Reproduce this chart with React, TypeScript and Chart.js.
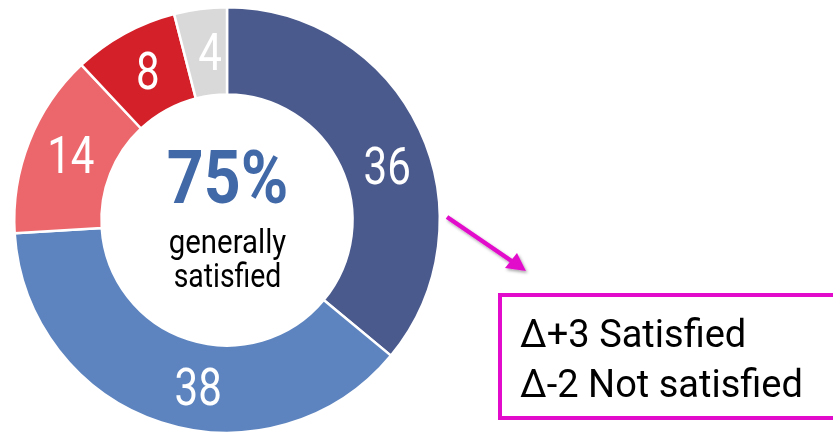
import React, { useEffect, useRef } from "react";
import { Chart, registerables } from "chart.js";

Chart.register(...registerables);

const categories = ["Very satisfied", "Fairly satisfied", "Not very satisfied", "Not at all satisfied", "Don't know"];
const values = [36, 38, 14, 8, 4];
const sliceColors = ["#4B5A8D", "#5D84BF", "#EC676B", "#D42029", "#D9D9D9"];
const centerValue = "75%";
const centerLines = ["generally", "satisfied"];
const deltaLines = ["Δ+3 Satisfied", "Δ-2 Not satisfied"];

// style: where along each slice's arc its label sits (0 = start, 1 = end)
const labelAngleFrac = [0.55, 0.44, 0.52, 0.53, 0.6];

const FONT = 'Roboto, "Liberation Sans", sans-serif';
const MAGENTA = "#E20BCB";

const labelPlugin = {
  id: "sliceLabels",
  afterDatasetsDraw(chart: any) {
    const ctx = chart.ctx;
    const meta = chart.getDatasetMeta(0);
    ctx.save();
    ctx.fillStyle = "#FFFFFF";
    ctx.font = `52px ${FONT}`;
    ctx.textAlign = "center";
    ctx.textBaseline = "alphabetic";
    meta.data.forEach((arc: any, i: number) => {
      const { x, y, startAngle, endAngle, innerRadius, outerRadius } = arc.getProps(
        ["x", "y", "startAngle", "endAngle", "innerRadius", "outerRadius"],
        true
      );
      const f = labelAngleFrac[i] ?? 0.5;
      const a = startAngle + (endAngle - startAngle) * f;
      const r = (innerRadius + outerRadius) / 2;
      const px = x + Math.cos(a) * r;
      const py = y + Math.sin(a) * r;
      ctx.save();
      ctx.translate(px, py);
      ctx.scale(0.81, 1);
      ctx.fillText(String(chart.data.datasets[0].data[i]), 0, 18.5);
      ctx.restore();
    });
    ctx.restore();
  },
};

export default function App() {
  const ref = useRef<HTMLCanvasElement>(null);
  useEffect(() => {
    const chart = new Chart(ref.current!, {
      type: "doughnut",
      data: {
        labels: categories,
        datasets: [
          {
            data: values,
            backgroundColor: sliceColors,
            borderColor: "#FFFFFF",
            borderWidth: 2.5,
          },
        ],
      },
      options: {
        animation: false,
        responsive: false,
        cutout: "59%",
        rotation: 0,
        layout: { padding: { left: 13, right: 392, top: 6, bottom: -2 } },
        plugins: { legend: { display: false }, tooltip: { enabled: false } },
      },
      plugins: [labelPlugin],
    });
    return () => chart.destroy();
  }, []);

  const abs = (top: number, size: number, extra: any = {}) => ({
    position: "absolute" as const,
    top,
    fontSize: size,
    lineHeight: `${size}px`,
    fontFamily: FONT,
    whiteSpace: "nowrap" as const,
    ...extra,
  });

  return (
    <div style={{ position: "fixed", left: 0, top: 0, width: 833, height: 434, overflow: "hidden", background: "#fff" }}>
      <canvas ref={ref} width={833} height={434} style={{ position: "absolute", left: 0, top: 0 }} />
      <div style={abs(141, 74, { left: 0, width: 455, textAlign: "center", fontWeight: "bold", color: "#4169A8", transform: "scaleX(0.87)" })}>{centerValue}</div>
      <div style={abs(225, 33, { left: 0, width: 455, textAlign: "center", color: "#000", transform: "scaleX(0.89)" })}>{centerLines[0]}</div>
      <div style={abs(259, 33, { left: 0, width: 455, textAlign: "center", color: "#000", transform: "scaleX(0.86)" })}>{centerLines[1]}</div>
      <svg width={833} height={434} style={{ position: "absolute", left: 0, top: 0 }}>
        <defs>
          <filter id="sh" x="-20%" y="-20%" width="140%" height="140%">
            <feDropShadow dx="1.5" dy="2" stdDeviation="1.5" floodColor="#000" floodOpacity="0.35" />
          </filter>
        </defs>
        <g filter="url(#sh)">
          <line x1={447} y1={217} x2={513} y2={262} stroke={MAGENTA} strokeWidth={4.5} />
          <polygon points="526,271 505,268 517,253" fill={MAGENTA} />
        </g>
      </svg>
      <div style={{ position: "absolute", left: 498, top: 293, width: 400, height: 119, border: `4px solid ${MAGENTA}` }} />
      <div style={abs(315, 38, { left: 520, color: "#000" })}>{deltaLines[0]}</div>
      <div style={abs(365, 38, { left: 520, color: "#000" })}>{deltaLines[1]}</div>
    </div>
  );
}
